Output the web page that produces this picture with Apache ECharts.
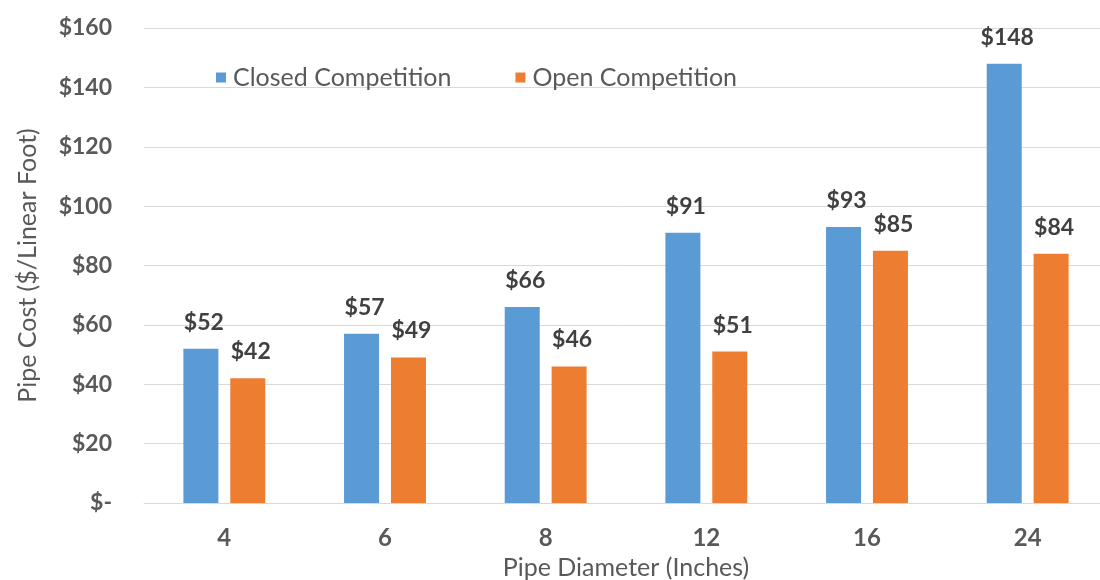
<!DOCTYPE html>
<html><head><meta charset="utf-8">
<script src="https://cdn.jsdelivr.net/npm/echarts@6/dist/echarts.min.js"></script>
<style>html,body{margin:0;padding:0;background:#fff;overflow:hidden}#c{width:1100px;height:580px}</style>
</head><body><div id="c"></div>
<script>
const categories = ['4','6','8','12','16','24'];
const closedCompetition = [52,57,66,91,93,148];
const openCompetition = [42,49,46,51,85,84];
const seriesNames = ['Closed Competition','Open Competition'];
const FONT = 'Lato';
const chart = echarts.init(document.getElementById('c'));
const lbl = {show:true, position:'top', distance:15, offset:[3,0], formatter:p=>'$'+p.value,
  fontFamily:FONT, fontWeight:'bold', fontSize:23, color:'#404040'};
chart.setOption({
  animation:false,
  textStyle:{fontFamily:FONT},
  grid:{left:144, right:-8, top:28, bottom:77, containLabel:false, outerBoundsMode:'none'},
  legend:{left:211, top:60, itemWidth:10, itemHeight:10, itemGap:64,
    icon:'rect', textStyle:{fontFamily:FONT, fontSize:25, color:'#595959', padding:[0,0,0,2]}, data:seriesNames},
  xAxis:{type:'category', data:categories,
    axisLine:{lineStyle:{color:'#d9d9d9'}}, axisTick:{show:false},
    axisLabel:{fontFamily:FONT, fontWeight:'bold', fontSize:24, color:'#595959', margin:23},
    name:'Pipe Diameter (Inches)', nameLocation:'middle', nameGap:52,
    nameTextStyle:{fontFamily:FONT, fontSize:25, color:'#595959'}},
  yAxis:{type:'value', min:0, max:160, interval:20,
    axisLine:{show:false}, axisTick:{show:false},
    splitLine:{lineStyle:{color:'#d9d9d9'}},
    axisLabel:{fontFamily:FONT, fontWeight:'bold', fontSize:23, color:'#595959', margin:32,
      formatter:v=>v===0?'$-':'$'+v},
    name:'Pipe Cost ($/Linear Foot)', nameLocation:'middle', nameGap:104,
    nameTextStyle:{fontFamily:FONT, fontSize:25, color:'#595959'}},
  series:[
    {name:seriesNames[0], type:'bar', data:closedCompetition, barWidth:35, barGap:'34%',
      itemStyle:{color:'#5B9BD5'}, label:lbl},
    {name:seriesNames[1], type:'bar', data:openCompetition, barWidth:35,
      itemStyle:{color:'#ED7D31'}, label:lbl}
  ]
});
</script></body></html>
